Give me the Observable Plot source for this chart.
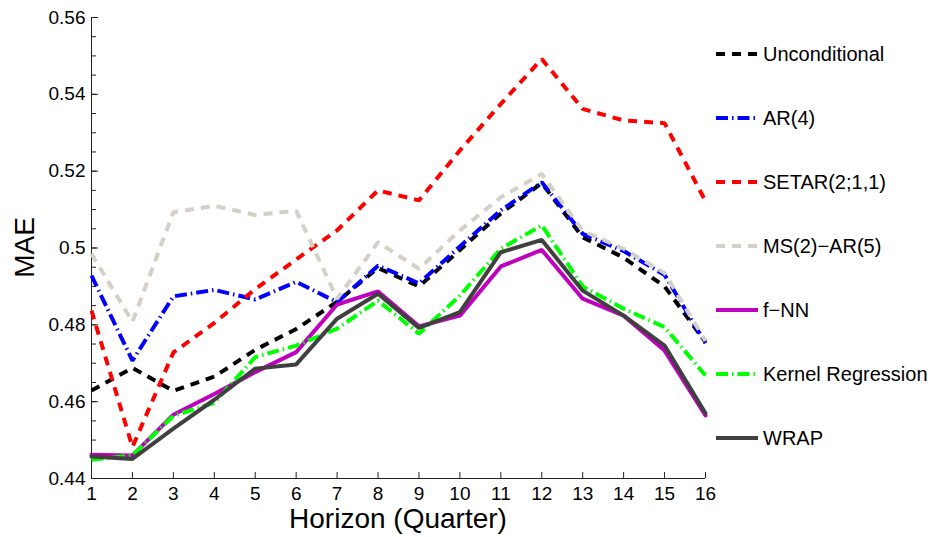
<!DOCTYPE html>
<html>
<head>
<meta charset="utf-8">
<script src="https://cdn.jsdelivr.net/npm/d3@7"></script>
<script src="https://cdn.jsdelivr.net/npm/@observablehq/plot@0.6"></script>
<style>
  html, body { margin: 0; padding: 0; background: #fff; }
  #chart svg { display: block; }
</style>
</head>
<body>
<div id="chart"></div>
<script>
// Forecast horizons (quarters)
const horizons = [1, 2, 3, 4, 5, 6, 7, 8, 9, 10, 11, 12, 13, 14, 15, 16];

// Mean absolute error of each forecasting model, by horizon
const unconditional = [0.4629, 0.4688, 0.4628, 0.4665, 0.4735, 0.4789, 0.4860, 0.4948, 0.4900, 0.4995, 0.5090, 0.5169, 0.5028, 0.4975, 0.4900, 0.4755];
const ar4           = [0.4928, 0.4707, 0.4874, 0.4891, 0.4866, 0.4912, 0.4859, 0.4954, 0.4908, 0.5004, 0.5098, 0.5171, 0.5037, 0.4992, 0.4930, 0.4752];
const setar         = [0.4837, 0.4482, 0.4728, 0.4805, 0.4893, 0.4970, 0.5046, 0.5150, 0.5124, 0.5254, 0.5375, 0.5492, 0.5362, 0.5332, 0.5325, 0.5122];
const msAr          = [0.4985, 0.4808, 0.5093, 0.5110, 0.5086, 0.5097, 0.4868, 0.5015, 0.4946, 0.5046, 0.5132, 0.5193, 0.5045, 0.4998, 0.4935, 0.4758];
const fnn           = [0.4462, 0.4460, 0.4566, 0.4620, 0.4677, 0.4729, 0.4853, 0.4887, 0.4796, 0.4824, 0.4952, 0.4995, 0.4868, 0.4824, 0.4733, 0.4564];
const kernel        = [0.4449, 0.4460, 0.4563, 0.4597, 0.4716, 0.4746, 0.4790, 0.4863, 0.4777, 0.4876, 0.4998, 0.5059, 0.4900, 0.4842, 0.4794, 0.4668];
const wrap          = [0.4457, 0.4451, 0.4530, 0.4605, 0.4686, 0.4697, 0.4816, 0.4881, 0.4792, 0.4833, 0.4989, 0.5021, 0.4889, 0.4824, 0.4746, 0.4570];

const seriesNames = ["Unconditional", "AR(4)", "SETAR(2;1,1)", "MS(2)\u2212AR(5)", "f\u2212NN", "Kernel Regression", "WRAP"];
const seriesValues = [unconditional, ar4, setar, msAr, fnn, kernel, wrap];

// Axis ticks
const yTicks = [0.44, 0.46, 0.48, 0.5, 0.52, 0.54, 0.56];
const yMinorTicks = d3.ticks(0.44, 0.56, 30);

// Line styling per model
const DASH = "9,7";
const DASH_DOT = "12,4,1.5,4";
const styles = {
  "Unconditional":       {stroke: "#000000", dash: DASH},
  "AR(4)":               {stroke: "#0000ff", dash: DASH_DOT},
  "SETAR(2;1,1)":        {stroke: "#ff0000", dash: DASH},
  "MS(2)\u2212AR(5)":    {stroke: "#d4d0c8", dash: DASH},
  "f\u2212NN":           {stroke: "#bf00bf", dash: null},
  "Kernel Regression":   {stroke: "#00ff00", dash: DASH_DOT},
  "WRAP":                {stroke: "#404040", dash: null}
};

// Long-format table: one row per model and horizon
const rows = seriesNames.flatMap((name, s) =>
  horizons.map((h, i) => ({series: name, h, mae: seriesValues[s][i]}))
);

const W = 935, H = 537;
const M = {left: 91, right: 230, top: 17, bottom: 59};
const FONT = "'Liberation Sans', Arial, Helvetica, sans-serif";
const AXIS_COLOR = "#222";

const lineMarks = seriesNames.map(name => Plot.line(rows.filter(d => d.series === name), {
  x: "h",
  y: "mae",
  stroke: styles[name].stroke,
  strokeWidth: 4,
  strokeDasharray: styles[name].dash || undefined,
  strokeLinecap: styles[name].dash ? "butt" : "round",
  strokeLinejoin: "miter"
}));

const chart = Plot.plot({
  width: W,
  height: H,
  marginLeft: M.left,
  marginRight: M.right,
  marginTop: M.top,
  marginBottom: M.bottom,
  style: {fontFamily: FONT, fontSize: "19px", background: "#fff", color: "#000"},
  x: {domain: [1, 16]},
  y: {domain: [0.44, 0.56]},
  marks: [
    // axis lines (left and bottom only)
    Plot.ruleX([1], {stroke: AXIS_COLOR, strokeWidth: 1}),
    Plot.ruleY([0.44], {stroke: AXIS_COLOR, strokeWidth: 1}),
    // inward tick marks
    Plot.ruleY(yMinorTicks, {x1: 1, x2: 1, insetRight: -5, stroke: AXIS_COLOR, strokeWidth: 1}),
    Plot.ruleY(yTicks, {x1: 1, x2: 1, insetRight: -7, stroke: AXIS_COLOR, strokeWidth: 1}),
    Plot.ruleX(horizons, {y1: 0.44, y2: 0.44, insetBottom: 6, stroke: AXIS_COLOR, strokeWidth: 1}),
    // tick labels
    Plot.axisY({ticks: yTicks, tickSize: 0, tickPadding: 6, fontSize: 19, label: null,
      tickFormat: d => String(+d.toFixed(2))}),
    Plot.axisX({ticks: horizons, tickSize: 0, tickPadding: 8, fontSize: 19, label: null,
      tickFormat: d => String(d)}),
    ...lineMarks
  ]
});

document.getElementById("chart").appendChild(chart);

const svg = d3.select(chart);

// Axis titles
svg.append("text")
  .attr("x", (M.left + W - M.right) / 2)
  .attr("y", 528)
  .attr("text-anchor", "middle")
  .attr("font-family", FONT)
  .attr("font-size", 28)
  .attr("fill", "#000")
  .text("Horizon (Quarter)");

svg.append("text")
  .attr("transform", `translate(34,${(M.top + H - M.bottom) / 2}) rotate(-90)`)
  .attr("text-anchor", "middle")
  .attr("font-family", FONT)
  .attr("font-size", 28)
  .attr("fill", "#000")
  .text("MAE");

// Legend to the right of the plot area
const legend = svg.append("g")
  .attr("font-family", FONT)
  .attr("font-size", 20)
  .attr("text-anchor", "start");
seriesNames.forEach((name, i) => {
  const y = 54 + i * 64;
  const st = styles[name];
  legend.append("line")
    .attr("x1", 716).attr("x2", 758)
    .attr("y1", y).attr("y2", y)
    .attr("stroke", st.stroke)
    .attr("stroke-width", 4)
    .attr("stroke-dasharray", st.dash)
    .attr("stroke-linecap", "butt");
  legend.append("text")
    .attr("x", 763)
    .attr("y", y)
    .attr("dy", "0.35em")
    .attr("text-anchor", "start")
    .attr("fill", "#000")
    .text(name);
});
</script>
</body>
</html>
